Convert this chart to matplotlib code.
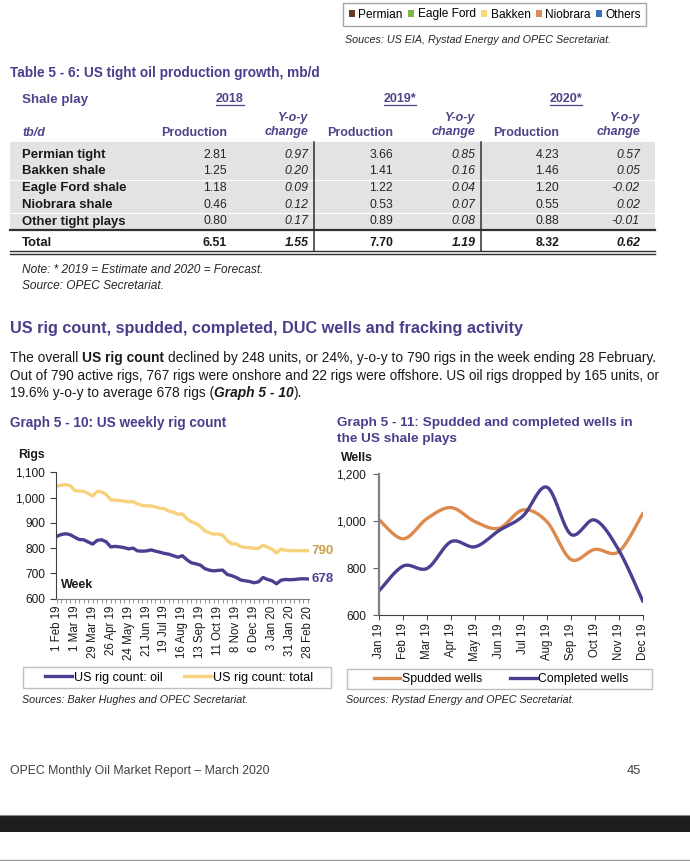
import matplotlib
matplotlib.use("Agg")
import matplotlib.pyplot as plt
import numpy as np
from matplotlib import font_manager as fm
from matplotlib.patches import Rectangle, Patch
from matplotlib.ticker import FuncFormatter

# ---------------- data ----------------
legend_plays = ["Permian", "Eagle Ford", "Bakken", "Niobrara", "Others"]
legend_colors = ["#6B3A1F", "#7DB548", "#F5D77A", "#D98C57", "#3A6FB5"]

years = ["2018", "2019*", "2020*"]
shale_plays = ["Permian tight", "Bakken shale", "Eagle Ford shale", "Niobrara shale", "Other tight plays"]
prod_2018 = [2.81, 1.25, 1.18, 0.46, 0.80]
yoy_2018 = [0.97, 0.20, 0.09, 0.12, 0.17]
prod_2019 = [3.66, 1.41, 1.22, 0.53, 0.89]
yoy_2019 = [0.85, 0.16, 0.04, 0.07, 0.08]
prod_2020 = [4.23, 1.46, 1.20, 0.55, 0.88]
yoy_2020 = [0.57, 0.05, -0.02, 0.02, -0.01]
total_prod = [6.51, 7.70, 8.32]
total_yoy = [1.55, 1.19, 0.62]

week_labels = ["1 Feb 19", "1 Mar 19", "29 Mar 19", "26 Apr 19", "24 May 19", "21 Jun 19",
               "19 Jul 19", "16 Aug 19", "13 Sep 19", "11 Oct 19", "8 Nov 19", "6 Dec 19",
               "3 Jan 20", "31 Jan 20", "28 Feb 20"]
rig_total = [1045, 1049, 1051, 1047, 1027, 1026, 1025, 1016, 1006, 1025, 1022, 1012, 991, 990,
             988, 986, 983, 984, 975, 969, 967, 967, 963, 958, 956, 946, 942, 934, 935, 916,
             904, 898, 886, 868, 861, 855, 856, 851, 830, 817, 817, 806, 803, 802, 799, 799,
             811, 804, 796, 781, 796, 792, 790, 790, 790, 790, 790]
rig_oil = [847, 854, 857, 853, 843, 834, 833, 824, 816, 831, 833, 825, 805, 807, 805, 802,
           797, 800, 789, 788, 789, 793, 788, 784, 779, 776, 770, 764, 770, 754, 742, 738,
           733, 719, 713, 710, 712, 713, 696, 691, 684, 674, 671, 668, 663, 667, 684, 676,
           671, 659, 673, 676, 675, 676, 678, 679, 678]

months = ["Jan 19", "Feb 19", "Mar 19", "Apr 19", "May 19", "Jun 19", "Jul 19", "Aug 19",
          "Sep 19", "Oct 19", "Nov 19", "Dec 19"]
spudded = [1005, 925, 1012, 1058, 998, 970, 1048, 998, 837, 880, 870, 1032]
completed = [704, 809, 799, 913, 891, 960, 1022, 1145, 944, 1005, 877, 660]

# ---------------- style ----------------
names = {f.name for f in fm.fontManager.ttflist}
SANS = "Liberation Sans" if "Liberation Sans" in names else "DejaVu Sans"
plt.rcParams["font.family"] = [SANS, "DejaVu Sans"]

PURPLE = "#4A3E8C"
PURPLE_T = "#4D4589"
OIL = "#4B3F91"
YELLOW = "#F6D27C"
GOLD = "#C9A14A"
ORANGE = "#DC8A4D"
GREY_BAND = "#E3E3E3"
TXT = "#1A1A1A"

W, H = 690, 861
fig = plt.figure(figsize=(W / 100, H / 100), dpi=100)
fig.patch.set_facecolor("white")
bg = fig.add_axes([0, 0, 1, 1], zorder=0)
bg.set_xlim(0, W)
bg.set_ylim(H, 0)
bg.axis("off")
R = fig.canvas.get_renderer()


def width_of(t):
    return t.get_window_extent(renderer=R).width


def T(x, y, s, size=9, fit=None, **kw):
    kw.setdefault("va", "center")
    kw.setdefault("color", TXT)
    t = bg.text(x, y, s, fontsize=size, **kw)
    if fit:
        for _ in range(3):
            t.set_fontsize(t.get_fontsize() * fit / width_of(t))
    return t


def space_w(sz, wt, st):
    a = bg.text(0, 0, "x x", fontsize=sz, fontweight=wt, fontstyle=st)
    b = bg.text(0, 0, "xx", fontsize=sz, fontweight=wt, fontstyle=st)
    w = width_of(a) - width_of(b)
    a.remove(); b.remove()
    return w


def runs(x, y, parts, size, fit=None, color=TXT):
    def layout(sz):
        cx = x
        ts = []
        for s, wt, st in parts:
            lead = len(s) - len(s.lstrip(" "))
            trail = len(s) - len(s.rstrip(" "))
            sp = space_w(sz, wt, st)
            cx += lead * sp
            t = bg.text(cx, y, s.strip(" "), fontsize=sz, fontweight=wt, fontstyle=st,
                        color=color, va="center")
            cx += width_of(t) + trail * sp
            ts.append(t)
        return cx - x, ts
    w, ts = layout(size)
    if fit:
        for _ in range(2):
            for t in ts:
                t.remove()
            size = size * fit / w
            w, ts = layout(size)
    return size


# ---------------- top legend ----------------
bg.add_patch(Rectangle((343, 3), 303, 23, fill=False, edgecolor="#A6A6A6", lw=1))
top_handles = [Patch(facecolor=c, edgecolor="none") for c in legend_colors]
fig.legend(top_handles, legend_plays, loc="center", bbox_to_anchor=(495 / W, 1 - 14.5 / H),
           ncol=5, frameon=False, fontsize=8.6, handlelength=0.5, handleheight=0.5,
           handletextpad=0.3, columnspacing=0.45, borderpad=0)
src_t = T(345, 40, "Souces: US EIA, Rystad Energy and OPEC Secretariat.", 8, fit=267,
          fontstyle="italic", color="#262626")
src_size = src_t.get_fontsize()

# ---------------- table ----------------
T(10, 73, "Table 5 - 6: US tight oil production growth, mb/d", 10, fit=310,
  fontweight="bold", color=PURPLE)

T(22, 99.5, "Shale play", 9, fit=67, fontweight="bold", color=PURPLE_T)
year_cx = [230, 400, 566]
for yr, cx in zip(years, year_cx):
    t = T(cx, 99.5, yr, 9, ha="center", fontweight="bold", color=PURPLE_T)
    w = width_of(t)
    bg.plot([cx - w / 2, cx + w / 2], [105.2, 105.2], color=PURPLE_T, lw=0.9)

prod_right = [227, 393, 559]
chg_right = [308.5, 475.5, 640]
T(22, 132.5, "tb/d", 9, fontstyle="italic", fontweight="bold", color=PURPLE_T)
for pr, cr in zip(prod_right, chg_right):
    T(cr, 117.5, "Y-o-y", 9, ha="right", fontstyle="italic", fontweight="bold", color=PURPLE_T)
    T(cr, 132.5, "change", 9, ha="right", fontstyle="italic", fontweight="bold", color=PURPLE_T)
    T(pr, 132.5, "Production", 9, fit=66, ha="right", fontweight="bold", color=PURPLE_T)

row_y = [155, 171.5, 188, 204.8, 221.5]
band_edges = [(141.5, 163.6), (164.4, 180.1), (180.9, 196.6), (197.4, 213.2), (214.0, 229.2)]
for (a, b) in band_edges:
    bg.add_patch(Rectangle((10, a), 645, b - a, facecolor=GREY_BAND, edgecolor="none"))

lab0 = T(22, row_y[0], shale_plays[0], 9, fit=84, fontweight="bold")
lab_size = lab0.get_fontsize()
NUM = 8.8
cols = [(prod_2018, yoy_2018), (prod_2019, yoy_2019), (prod_2020, yoy_2020)]
for i, (name, yy) in enumerate(zip(shale_plays, row_y)):
    if i > 0:
        T(22, yy, name, lab_size, fontweight="bold")
    for (pv, cv), pr, cr in zip(cols, prod_right, chg_right):
        T(pr, yy, f"{pv[i]:.2f}", NUM, ha="right", color="#262626")
        T(cr, yy, f"{cv[i]:.2f}", NUM, ha="right", fontstyle="italic", color="#262626")

T(22, 243, "Total", lab_size, fontweight="bold")
for tp, ty, pr, cr in zip(total_prod, total_yoy, prod_right, chg_right):
    T(pr, 243, f"{tp:.2f}", NUM, ha="right", fontweight="bold")
    T(cr, 243, f"{ty:.2f}", NUM, ha="right", fontweight="bold", fontstyle="italic")

bg.plot([10, 655], [230.3, 230.3], color="#303030", lw=1.6)
bg.plot([10, 655], [251.3, 251.3], color="#303030", lw=1.0)
bg.plot([10, 655], [253.8, 253.8], color="#303030", lw=1.0)
for vx in (313.5, 481):
    bg.plot([vx, vx], [141.5, 251.3], color="#303030", lw=1.1)

note_t = T(22, 270, "Note: * 2019 = Estimate and 2020 = Forecast.", 8.5, fit=242,
           fontstyle="italic", color="#262626")
T(22, 286, "Source: OPEC Secretariat.", note_t.get_fontsize(), fontstyle="italic", color="#262626")

# ---------------- section text ----------------
T(10, 328, "US rig count, spudded, completed, DUC wells and fracking activity", 12, fit=512,
  fontweight="bold", color=PURPLE)
psize = runs(10, 358, [("The overall ", "normal", "normal"), ("US rig count", "bold", "normal"),
                       (" declined by 248 units, or 24%, y-o-y to 790 rigs in the week ending 28 February.",
                        "normal", "normal")], 10, fit=647)
runs(10, 376, [("Out of 790 active rigs, 767 rigs were onshore and 22 rigs were offshore. "
                "US oil rigs dropped by 165 units, or", "normal", "normal")], psize, fit=648)
runs(10, 393, [("19.6% y-o-y to average 678 rigs (", "normal", "normal"),
               ("Graph 5 - 10", "bold", "italic"), (").", "normal", "normal")], psize)

g1 = T(10, 423, "Graph 5 - 10: US weekly rig count", 10, fit=216, fontweight="bold", color=PURPLE)
g2 = T(337, 423, "Graph 5 - 11: Spudded and completed wells in", 10, fit=293,
       fontweight="bold", color=PURPLE)
T(337, 439, "the US shale plays", g2.get_fontsize(), fontweight="bold", color=PURPLE)

# ---------------- left chart ----------------
def ax_rect(l, t, r, b):
    return [l / W, 1 - b / H, (r - l) / W, (b - t) / H]

fmt = FuncFormatter(lambda v, p: f"{int(v):,}")

T(18, 455, "Rigs", 8.8, fontweight="bold")
ax1 = fig.add_axes(ax_rect(56, 472.3, 309, 598.7))
xw = np.arange(len(rig_oil))
l_tot, = ax1.plot(xw, rig_total, color=YELLOW, lw=2.4, solid_joinstyle="round",
                  label="US rig count: total")
l_oil, = ax1.plot(xw, rig_oil, color=OIL, lw=2.4, solid_joinstyle="round",
                  label="US rig count: oil")
ax1.set_xlim(-0.2, len(xw) - 1 + 0.25)
ax1.set_ylim(600, 1100)
ax1.set_yticks(np.arange(600, 1101, 100))
ax1.yaxis.set_major_formatter(fmt)
ax1.set_xticks(xw[::4])
ax1.set_xticklabels(week_labels, rotation=90)
ax1.set_xticks(xw, minor=True)
for s in ("top", "right"):
    ax1.spines[s].set_visible(False)
ax1.spines["left"].set_color("#404040")
ax1.spines["bottom"].set_color("#7F7F7F")
ax1.tick_params(axis="y", direction="out", length=4, width=0.8, pad=4, labelsize=8.6,
                colors="#404040", labelcolor=TXT)
ax1.tick_params(axis="x", which="both", direction="out", length=3, width=0.6, pad=2,
                labelsize=8.3, colors="#7F7F7F", labelcolor=TXT)
ax1.patch.set_alpha(0)
ax1.annotate(f"{rig_total[-1]}", xy=(xw[-1], rig_total[-1]), xytext=(2.5, 0),
             textcoords="offset points", va="center", ha="left", fontsize=9.5,
             fontweight="bold", color=GOLD, annotation_clip=False)
ax1.annotate(f"{rig_oil[-1]}", xy=(xw[-1], rig_oil[-1]), xytext=(2.5, 0),
             textcoords="offset points", va="center", ha="left", fontsize=9.5,
             fontweight="bold", color=OIL, annotation_clip=False)
T(61, 585, "Week", 9, fontweight="bold")

bg.add_patch(Rectangle((23, 667), 308, 20.5, fill=False, edgecolor="#BFBFBF", lw=1))
fig.legend([l_oil, l_tot], ["US rig count: oil", "US rig count: total"], loc="center",
           bbox_to_anchor=(179 / W, 1 - 677.5 / H), ncol=2, frameon=False, fontsize=9,
           handlelength=2.2, handletextpad=0.1, columnspacing=1.75, borderpad=0)
T(22, 700, "Sources: Baker Hughes and OPEC Secretariat.", src_size, fontstyle="italic",
  color="#262626")

# ---------------- right chart ----------------
def smooth(x, y, n=24):
    x = np.asarray(x, float); y = np.asarray(y, float)
    px = np.r_[x[0], x, x[-1]]; py = np.r_[y[0], y, y[-1]]
    t = np.linspace(0, 1, n, endpoint=False)[:, None]
    out = []
    for i in range(1, len(px) - 2):
        p0 = np.array([px[i - 1], py[i - 1]]); p1 = np.array([px[i], py[i]])
        p2 = np.array([px[i + 1], py[i + 1]]); p3 = np.array([px[i + 2], py[i + 2]])
        c1 = p1 + (p2 - p0) / 6.0
        c2 = p2 - (p3 - p1) / 6.0
        b = ((1 - t) ** 3) * p1 + 3 * ((1 - t) ** 2) * t * c1 + 3 * (1 - t) * t ** 2 * c2 + t ** 3 * p2
        out.append(b)
    out.append(np.array([[x[-1], y[-1]]]))
    arr = np.vstack(out)
    return arr[:, 0], arr[:, 1]

T(341, 458, "Wells", 8.8, fontweight="bold")
ax2 = fig.add_axes(ax_rect(379.3, 474.3, 642.7, 615))
xm = np.arange(len(months))
sx, sy = smooth(xm, spudded)
cx_, cy_ = smooth(xm, completed)
l_sp, = ax2.plot(sx, sy, color=ORANGE, lw=2.4, label="Spudded wells")
l_co, = ax2.plot(cx_, cy_, color=OIL, lw=2.4, label="Completed wells")
ax2.set_xlim(0, len(months) - 1)
ax2.set_ylim(600, 1200)
ax2.set_yticks(np.arange(600, 1201, 200))
ax2.yaxis.set_major_formatter(fmt)
ax2.set_xticks(xm)
ax2.set_xticklabels(months, rotation=90)
for s in ("top", "right"):
    ax2.spines[s].set_visible(False)
ax2.spines["left"].set_color("#808080")
ax2.spines["left"].set_linewidth(1.6)
ax2.spines["bottom"].set_color("#404040")
ax2.tick_params(axis="y", direction="out", length=4.5, width=0.8, pad=5, labelsize=8.6,
                colors="#606060", labelcolor=TXT)
ax2.tick_params(axis="x", direction="out", length=3.5, width=0.7, pad=2.5, labelsize=8.3,
                colors="#404040", labelcolor=TXT)
ax2.patch.set_alpha(0)

bg.add_patch(Rectangle((346.5, 668.5), 305.5, 20.5, fill=False, edgecolor="#BFBFBF", lw=1))
fig.legend([l_sp, l_co], ["Spudded wells", "Completed wells"], loc="center",
           bbox_to_anchor=(501 / W, 1 - 679 / H), ncol=2, frameon=False, fontsize=8.8,
           handlelength=2.2, handletextpad=0.1, columnspacing=2.3, borderpad=0)
T(346, 700, "Sources: Rystad Energy and OPEC Secretariat.", src_size, fontstyle="italic",
  color="#262626")

# ---------------- footer ----------------
T(10, 771, "OPEC Monthly Oil Market Report \u2013 March 2020", 9, fit=258, color="#404040")
T(641, 771, "45", 9.3, ha="right", color="#404040")
bg.add_patch(Rectangle((0, 815.5), W, 16.5, facecolor="#1E1E1E", edgecolor="none"))
bg.plot([0, W], [815, 815], color="#8A8A8A", lw=0.8)
bg.plot([0, W], [859.5, 859.5], color="#9A9A9A", lw=1.0)

fig.savefig("out.png", dpi=100, facecolor="white")
